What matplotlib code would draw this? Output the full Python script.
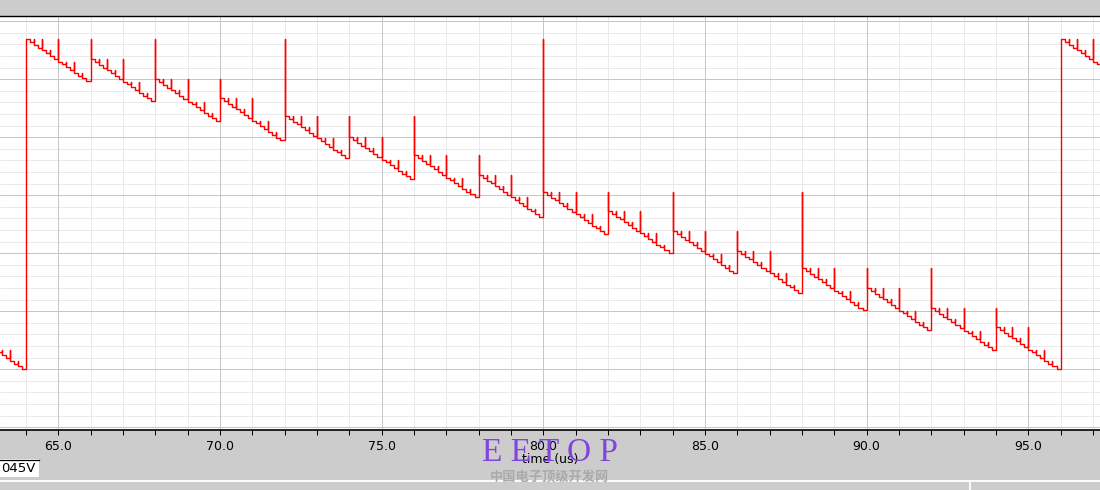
import matplotlib
matplotlib.use("Agg")
import matplotlib.pyplot as plt
import numpy as np
from matplotlib.ticker import FixedLocator, MultipleLocator
from matplotlib.lines import Line2D
from matplotlib.patches import Rectangle

# ---------------- data ----------------
# start time (us) of each 2-us staircase segment
seg_start_us = [62, 64, 66, 68, 70, 72, 74, 76, 78, 80, 82, 84, 86, 88, 90, 92, 94, 96]
# level of the first step of each segment (units: one major grid division)
seg_level = [0.724, 5.690, 5.345, 5.000, 4.672, 4.367, 4.000, 3.691, 3.350,
             3.057, 2.729, 2.379, 2.040, 1.741, 1.397, 1.052, 0.724, 5.690]
# peak reached by the glitch at the start of each segment
seg_glitch_peak = [0.724, 5.690, 5.690, 5.690, 5.000, 5.690, 4.367, 4.367, 3.691,
                   5.690, 3.057, 3.057, 2.379, 3.057, 1.741, 1.741, 1.052, 5.690]
# drop of each of the 16 steps below the segment's first level
step_drop = [0.000, 0.048, 0.097, 0.145, 0.193, 0.241, 0.290, 0.338,
             0.386, 0.434, 0.483, 0.531, 0.579, 0.627, 0.676, 0.724]
# index of the step whose level each in-segment glitch reaches
step_glitch_ref = [0, 0, 0, 2, 0, 4, 4, 6, 0, 8, 8, 10, 8, 12, 12, 14]
step_us = 0.125

x_ticks = [65.0, 70.0, 75.0, 80.0, 85.0, 90.0, 95.0]
x_tick_labels = ["65.0", "70.0", "75.0", "80.0", "85.0", "90.0", "95.0"]
x_label = "time (us)"
readout_text = "045V"
x_lim = (63.2, 97.22)
y_lim = (-1.047, 6.091)

# ---------------- build the waveform ----------------
xs, ys = [], []
prev = None
for k, t0 in enumerate(seg_start_us):
    base = seg_level[k]
    for j in range(16):
        t = t0 + j * step_us
        new = base - step_drop[j]
        if j == 0:
            peak = seg_glitch_peak[k]
        else:
            peak = base - step_drop[step_glitch_ref[j]]
        if prev is None:
            xs.append(t); ys.append(new)
        else:
            xs += [t, t, t]
            ys += [prev, peak, new]
        prev = new
xs.append(seg_start_us[-1] + 2.0)
ys.append(prev)

# ---------------- figure ----------------
W, H = 1100, 490
PX = 72 / 100  # one pixel in points
fig = plt.figure(figsize=(11, 4.9), dpi=100, facecolor="#cccccc")
ax = fig.add_axes([0, (H - 430) / H, 1, (430 - 16) / H])
ax.set_facecolor("white")

ax.set_xlim(*x_lim)
ax.set_ylim(*y_lim)

ax.xaxis.set_major_locator(FixedLocator(x_ticks))
ax.set_xticklabels(x_tick_labels)
ax.xaxis.set_minor_locator(MultipleLocator(1.0))
ax.yaxis.set_major_locator(MultipleLocator(1.0))

# light minor grid (below the major grid)
minor_x = ax.xaxis.get_minorticklocs()
minor_y = MultipleLocator(0.2).tick_values(*y_lim)
ax.vlines(minor_x, *y_lim, colors="#eaeaea", lw=PX, zorder=0.1)
ax.hlines(minor_y, *x_lim, colors="#eaeaea", lw=PX, zorder=0.1)
ax.grid(which="major", color="#c6c6c6", lw=PX)
ax.set_axisbelow(True)
ax.set_xlim(*x_lim)
ax.set_ylim(*y_lim)

ax.plot(xs, ys, color="#ff0000", lw=1.0, zorder=3)

ax.tick_params(axis="x", which="both", direction="out", length=3.6, width=PX,
               color="black", labelsize=9, pad=3.5)
ax.tick_params(axis="y", which="both", length=0, labelleft=False)

for s in ("left", "right"):
    ax.spines[s].set_visible(False)
ax.spines["bottom"].set_linewidth(1.2)
ax.spines["top"].set_linewidth(1.0)

ax.set_xlabel(x_label, fontsize=9, labelpad=0)

# bottom panel decorations
fig.add_artist(Line2D([0, 1], [(H - 480.8) / H] * 2, color="white", lw=1.3,
                      transform=fig.transFigure))
fig.add_artist(Line2D([970 / W] * 2, [0, (H - 480.8) / H], color="white", lw=1.3,
                      transform=fig.transFigure))
fig.add_artist(Rectangle((0, (H - 477) / H), 39 / W, 18 / H, facecolor="white",
                         edgecolor="none", transform=fig.transFigure))
fig.add_artist(Line2D([0, 38.5 / W], [(H - 459.5) / H] * 2, color="black", lw=0.9,
                      transform=fig.transFigure))
fig.text(1 / W, (H - 468.5) / H, readout_text, fontsize=9.5, ha="left", va="center")

# watermark
fig.text(550 / W, (H - 453) / H, "E E T O P", family="Liberation Serif",
         fontsize=24, color="#8244de", ha="center", va="center", zorder=10)
fig.text(549 / W, (H - 477) / H, "中国电子顶级开发网", family=["Noto Sans CJK SC"],
         fontsize=9.5, fontweight="bold", color="#aaaaaa", ha="center",
         va="center", zorder=10)

fig.savefig("out.png", dpi=100, facecolor=fig.get_facecolor())
